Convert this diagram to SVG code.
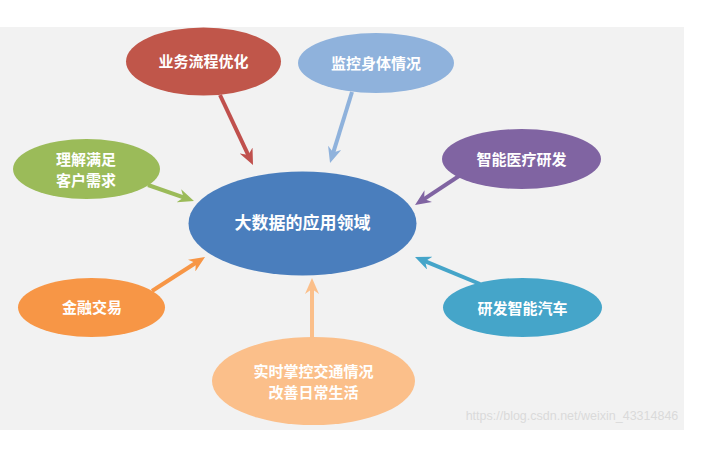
<svg xmlns="http://www.w3.org/2000/svg" width="720" height="450" viewBox="0 0 720 450">
<defs>
<style>
.lbl{font-family:"Noto Sans CJK SC","Noto Sans",sans-serif;font-weight:bold;font-size:15px;fill:#ffffff;text-anchor:middle}
.big{font-size:17px}
.conn line{stroke-width:4;fill:none}
</style>
<marker id="mRed" markerUnits="userSpaceOnUse" markerWidth="16" markerHeight="14" refX="8" refY="7" orient="auto"><path d="M0,0 L16,7 L0,14 L5,7 z" fill="#c0504d"/></marker>
<marker id="mLBlue" markerUnits="userSpaceOnUse" markerWidth="16" markerHeight="14" refX="8" refY="7" orient="auto"><path d="M0,0 L16,7 L0,14 L5,7 z" fill="#8fb2dc"/></marker>
<marker id="mGreen" markerUnits="userSpaceOnUse" markerWidth="16" markerHeight="14" refX="8" refY="7" orient="auto"><path d="M0,0 L16,7 L0,14 L5,7 z" fill="#9bbb59"/></marker>
<marker id="mPurple" markerUnits="userSpaceOnUse" markerWidth="16" markerHeight="14" refX="8" refY="7" orient="auto"><path d="M0,0 L16,7 L0,14 L5,7 z" fill="#8064a2"/></marker>
<marker id="mOrange" markerUnits="userSpaceOnUse" markerWidth="16" markerHeight="14" refX="8" refY="7" orient="auto"><path d="M0,0 L16,7 L0,14 L5,7 z" fill="#f79646"/></marker>
<marker id="mPeach" markerUnits="userSpaceOnUse" markerWidth="16" markerHeight="14" refX="8" refY="7" orient="auto"><path d="M0,0 L16,7 L0,14 L5,7 z" fill="#fbbf8a"/></marker>
<marker id="mTeal" markerUnits="userSpaceOnUse" markerWidth="16" markerHeight="14" refX="8" refY="7" orient="auto"><path d="M0,0 L16,7 L0,14 L5,7 z" fill="#45a5c9"/></marker>
</defs>
<rect x="0" y="0" width="720" height="450" fill="#ffffff"/>
<rect x="0" y="27" width="684" height="403" fill="#f2f2f2"/>
<g id="connectors" class="conn">
<line x1="220" y1="95" x2="249.6" y2="157.8" stroke="#c0504d" marker-end="url(#mRed)"/>
<line x1="352" y1="92" x2="332.4" y2="155.4" stroke="#8fb2dc" marker-end="url(#mLBlue)"/>
<line x1="148" y1="185" x2="186.4" y2="198.4" stroke="#9bbb59" marker-end="url(#mGreen)"/>
<line x1="462" y1="174" x2="421.7" y2="200.6" stroke="#8064a2" marker-end="url(#mPurple)"/>
<line x1="152" y1="291" x2="198.3" y2="261.3" stroke="#f79646" marker-end="url(#mOrange)"/>
<line x1="312" y1="338" x2="312" y2="286" stroke="#fbbf8a" marker-end="url(#mPeach)"/>
<line x1="480" y1="284" x2="422.4" y2="260.1" stroke="#45a5c9" marker-end="url(#mTeal)"/>
</g>
<g id="node-center">
<ellipse cx="302.5" cy="223.5" rx="114" ry="52" fill="#4a7ebd"/>
<text class="lbl big" x="302.5" y="229">大数据的应用领域</text>
</g>
<g id="node-business">
<ellipse cx="203.5" cy="61.5" rx="77.5" ry="34" fill="#c0564a"/>
<text class="lbl" x="203.5" y="67">业务流程优化</text>
</g>
<g id="node-health">
<ellipse cx="376" cy="63" rx="78" ry="30" fill="#8fb2dc"/>
<text class="lbl" x="376" y="68.5">监控身体情况</text>
</g>
<g id="node-customer">
<ellipse cx="86.5" cy="169" rx="73.5" ry="30" fill="#9bbb59"/>
<text class="lbl" x="86" y="164.5">理解满足</text>
<text class="lbl" x="86" y="185.5">客户需求</text>
</g>
<g id="node-medical">
<ellipse cx="521.5" cy="159" rx="79.5" ry="30" fill="#8064a2"/>
<text class="lbl" x="521.5" y="165">智能医疗研发</text>
</g>
<g id="node-finance">
<ellipse cx="91.5" cy="307.5" rx="73.5" ry="29.5" fill="#f79646"/>
<text class="lbl" x="92" y="313">金融交易</text>
</g>
<g id="node-traffic">
<ellipse cx="313.5" cy="381" rx="101.5" ry="44" fill="#fbbf8a"/>
<text class="lbl" x="313.5" y="377">实时掌控交通情况</text>
<text class="lbl" x="313.5" y="398">改善日常生活</text>
</g>
<g id="node-car">
<ellipse cx="522.5" cy="307.5" rx="79.5" ry="29.5" fill="#45a5c9"/>
<text class="lbl" x="522.5" y="313.5">研发智能汽车</text>
</g>
<text x="572" y="420" font-family="Liberation Sans, Arial, sans-serif" font-size="12.5" fill="#dadada" text-anchor="middle">https://blog.csdn.net/weixin_43314846</text>
</svg>
